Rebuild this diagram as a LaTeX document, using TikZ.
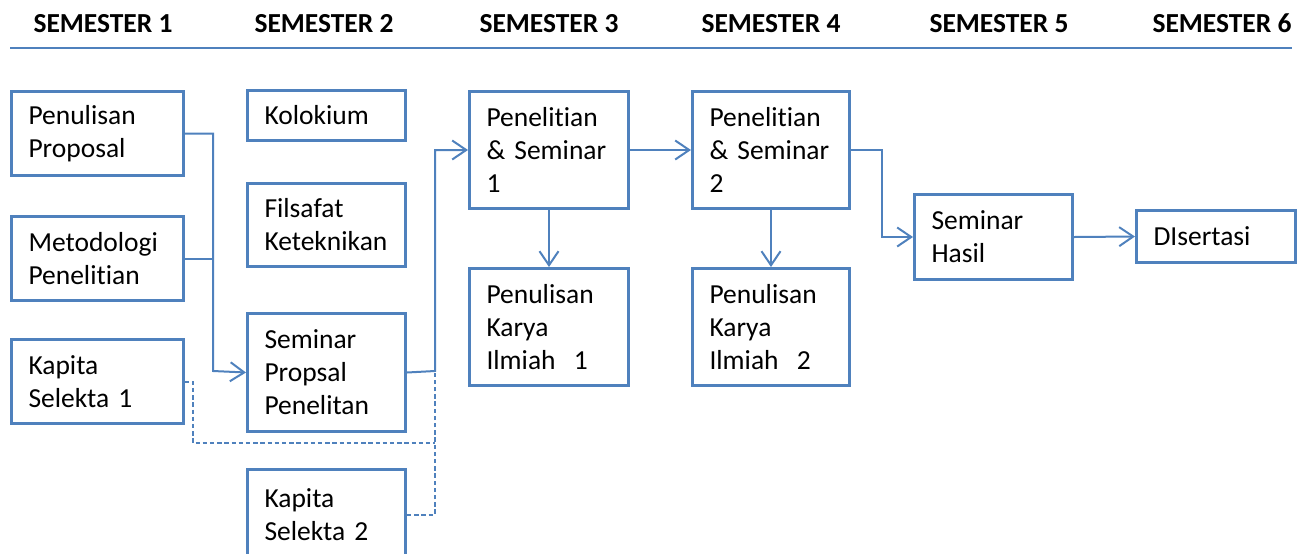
\documentclass[tikz,border=0pt]{standalone}
\usepackage{fontspec}
\setmainfont{Carlito}[Ligatures={NoCommon,NoContextual,NoRare}]
\usetikzlibrary{arrows.meta,calc}
\definecolor{ob}{HTML}{4F81BD}
\newcommand\bx[7]{\node[box,anchor=north west,minimum width=#4*0.5pt,minimum height=#5*0.5pt,text width=#6pt] (#1) at (#2,#3) {#7};}
\begin{document}
\begin{tikzpicture}[x=0.5pt,y=-0.5pt,
  box/.style={draw=ob,line width=1.5pt,align=left,inner xsep=8.5pt,inner ysep=0pt,
    font=\fontsize{13.75}{16.5}\selectfont},
  sem/.style={font=\fontsize{13.75}{16.5}\selectfont\bfseries,anchor=base,inner sep=0pt},
  conn/.style={draw=ob,line width=1pt},
  arr/.style={conn,-{Straight Barb[length=7pt,width=9.5pt,line width=1pt]}},
  dashline/.style={conn,dash pattern=on 2.2pt off 1.4pt}]
\useasboundingbox (0,0) rectangle (1302,553);
% headers
\node[sem] (s1) at (103,32) {SEMESTER 1};
\node[sem] (s2) at (324,32) {SEMESTER 2};
\node[sem] (s3) at (549,32) {SEMESTER 3};
\node[sem] (s4) at (771,32) {SEMESTER 4};
\node[sem] (s5) at (999,32) {SEMESTER 5};
\node[sem] (s6) at (1222,32) {SEMESTER 6};
\coordinate (hl) at (10,48);
\coordinate (hr) at (1292,48);
\draw[conn] (hl) -- (hr);
% boxes
\bx{pp}{10}{90}{172}{84}{69}{Penulisan\\Proposal}
\bx{mp}{10}{215}{172}{84}{69}{Metodologi\\Penelitian}
\bx{ksa}{10}{338}{172}{84}{69}{Kapita\\Selekta 1}
\bx{kol}{246}{89}{158}{50}{62}{Kolokium}
\bx{fk}{246}{182}{158}{83}{62}{Filsafat\\Keteknikan}
\bx{spp}{246}{312}{158}{118}{62}{Seminar\\Propsal\\Penelitan}
\bx{ksb}{246}{468}{158}{90}{62}{Kapita\\Selekta 2}
\bx{psa}{468}{90}{159}{117}{62.5}{Penelitian\\\& Seminar\\1}
\bx{pka}{468}{267}{159}{117}{62.5}{Penulisan\\Karya\\Ilmiah\ \ 1}
\bx{psb}{691}{90}{157}{117}{61.5}{Penelitian\\\& Seminar\\2}
\bx{pkb}{691}{267}{157}{117}{61.5}{Penulisan\\Karya\\Ilmiah\ \ 2}
\bx{sh}{913}{193}{158}{85}{62}{Seminar\\Hasil}
\bx{dis}{1135}{209}{159}{52}{62.5}{DIsertasi}
% junctions
\coordinate (ja) at (213,371);
\coordinate (jb) at (435,371);
\coordinate (jc) at (193,443);
\coordinate (jd) at (435,443);
% connectors
\draw[arr] (pp.east) -| (ja) -- (spp.west);
\draw[conn] (mp.east) -- (mp.east -| ja);
\draw[arr] (spp.east) -- (jb) |- (psa.west);
\draw[dashline] (ksa.east) -| (jc) -- (jd);
\draw[dashline] (ksb.east) -| (jd) -- ([yshift=-0.5pt]jb);
\draw[arr] (psa.east) -- (psb.west);
\draw[arr] (psa.south) -- (pka.north);
\draw[arr] (psb.south) -- (pkb.north);
\draw[arr] (psb.east) -| ($(psb.east)!.5!(sh.west)$) |- (sh.west);
\draw[arr] (sh.east) -- (dis.west);
\end{tikzpicture}
\end{document}
